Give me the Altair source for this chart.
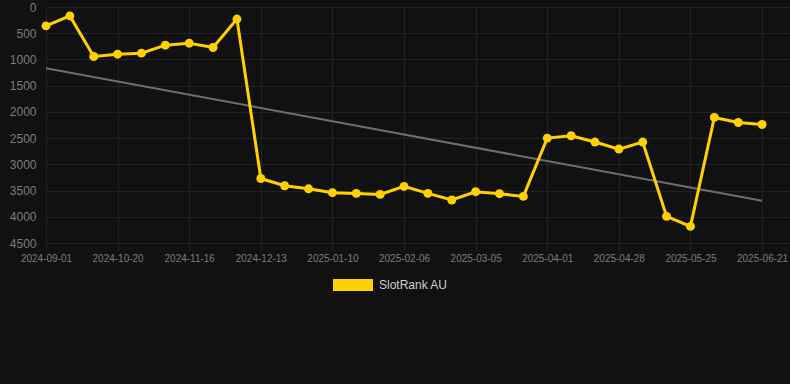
import altair as alt
import pandas as pd

# ---- data ----
dates = [
    "2024-09-01", "2024-09-17", "2024-10-04", "2024-10-20", "2024-10-29",
    "2024-11-07", "2024-11-16", "2024-11-25", "2024-12-04", "2024-12-13",
    "2024-12-22", "2025-01-01", "2025-01-10", "2025-01-19", "2025-01-28",
    "2025-02-06", "2025-02-15", "2025-02-24", "2025-03-05", "2025-03-14",
    "2025-03-23", "2025-04-01", "2025-04-10", "2025-04-19", "2025-04-28",
    "2025-05-07", "2025-05-16", "2025-05-25", "2025-06-03", "2025-06-12",
    "2025-06-21",
]
ranks = [
    360, 170, 944, 900, 880, 728, 690, 772, 230, 3270,
    3408, 3467, 3541, 3554, 3573, 3421, 3554, 3680, 3522, 3560,
    3611, 2500, 2455, 2575, 2709, 2575, 3992, 4183, 2106, 2202,
    2240,
]
series_name = "SlotRank AU"
y_ticks = [0, 500, 1000, 1500, 2000, 2500, 3000, 3500, 4000, 4500]

df = pd.DataFrame({
    "idx": list(range(len(dates))),
    "date": dates,
    "rank": ranks,
    "series": [series_name] * len(dates),
})

x_ticks = list(range(0, len(dates), 3))
label_expr = "[" + ",".join("'" + d + "'" for d in dates) + "][datum.value]"

YELLOW = "#FFD100"
GRID = "#222222"
LABEL = "#7c7c7c"
FONT = "Liberation Sans, Arial, sans-serif"

x_enc = alt.X(
    "idx:Q",
    scale=alt.Scale(domain=[0, 31.17], nice=False, zero=False),
    axis=alt.Axis(
        values=x_ticks, labelExpr=label_expr, title=None, grid=True,
        gridColor=GRID, domain=False, ticks=True, tickColor=GRID, tickSize=8,
        labelFontSize=10, labelColor=LABEL, labelPadding=2, labelFlush=False,
        labelFont=FONT,
    ),
)
y_enc = alt.Y(
    "rank:Q",
    scale=alt.Scale(domain=[0, 4500], reverse=True, nice=False, zero=False),
    axis=alt.Axis(
        values=y_ticks, format="d", title=None, grid=True, gridColor=GRID,
        domain=False, ticks=False, tickSize=0, labelFontSize=12,
        labelColor=LABEL, labelPadding=10, labelFont=FONT,
    ),
)

base = alt.Chart(df)

trend = base.transform_regression("idx", "rank").mark_line(
    color="#6e6e6e", strokeWidth=2
).encode(x=x_enc, y=y_enc)

line = base.mark_line(color=YELLOW, strokeWidth=3).encode(x=x_enc, y=y_enc)

points = base.mark_circle(size=80, opacity=1).encode(
    x=x_enc,
    y=y_enc,
    color=alt.Color(
        "series:N",
        scale=alt.Scale(range=[YELLOW]),
        legend=alt.Legend(
            orient="none", legendX=287, legendY=258, title=None,
            direction="horizontal",
            symbolType="M-1,-0.3H1V0.3H-1Z", symbolSize=1600,
            symbolStrokeWidth=0, labelFontSize=12, labelColor="#cfcfcf",
            labelOffset=6, labelFont=FONT,
        ),
    ),
)

chart = alt.layer(trend, line, points).properties(
    width=744,
    height=236,
    autosize=alt.AutoSizeParams(type="none"),
    padding={"left": 46, "top": 7, "right": 0, "bottom": 141},
    background="#111111",
).configure_view(stroke=None)

chart.save("out.html", embed_options={"renderer": "svg", "actions": False})
